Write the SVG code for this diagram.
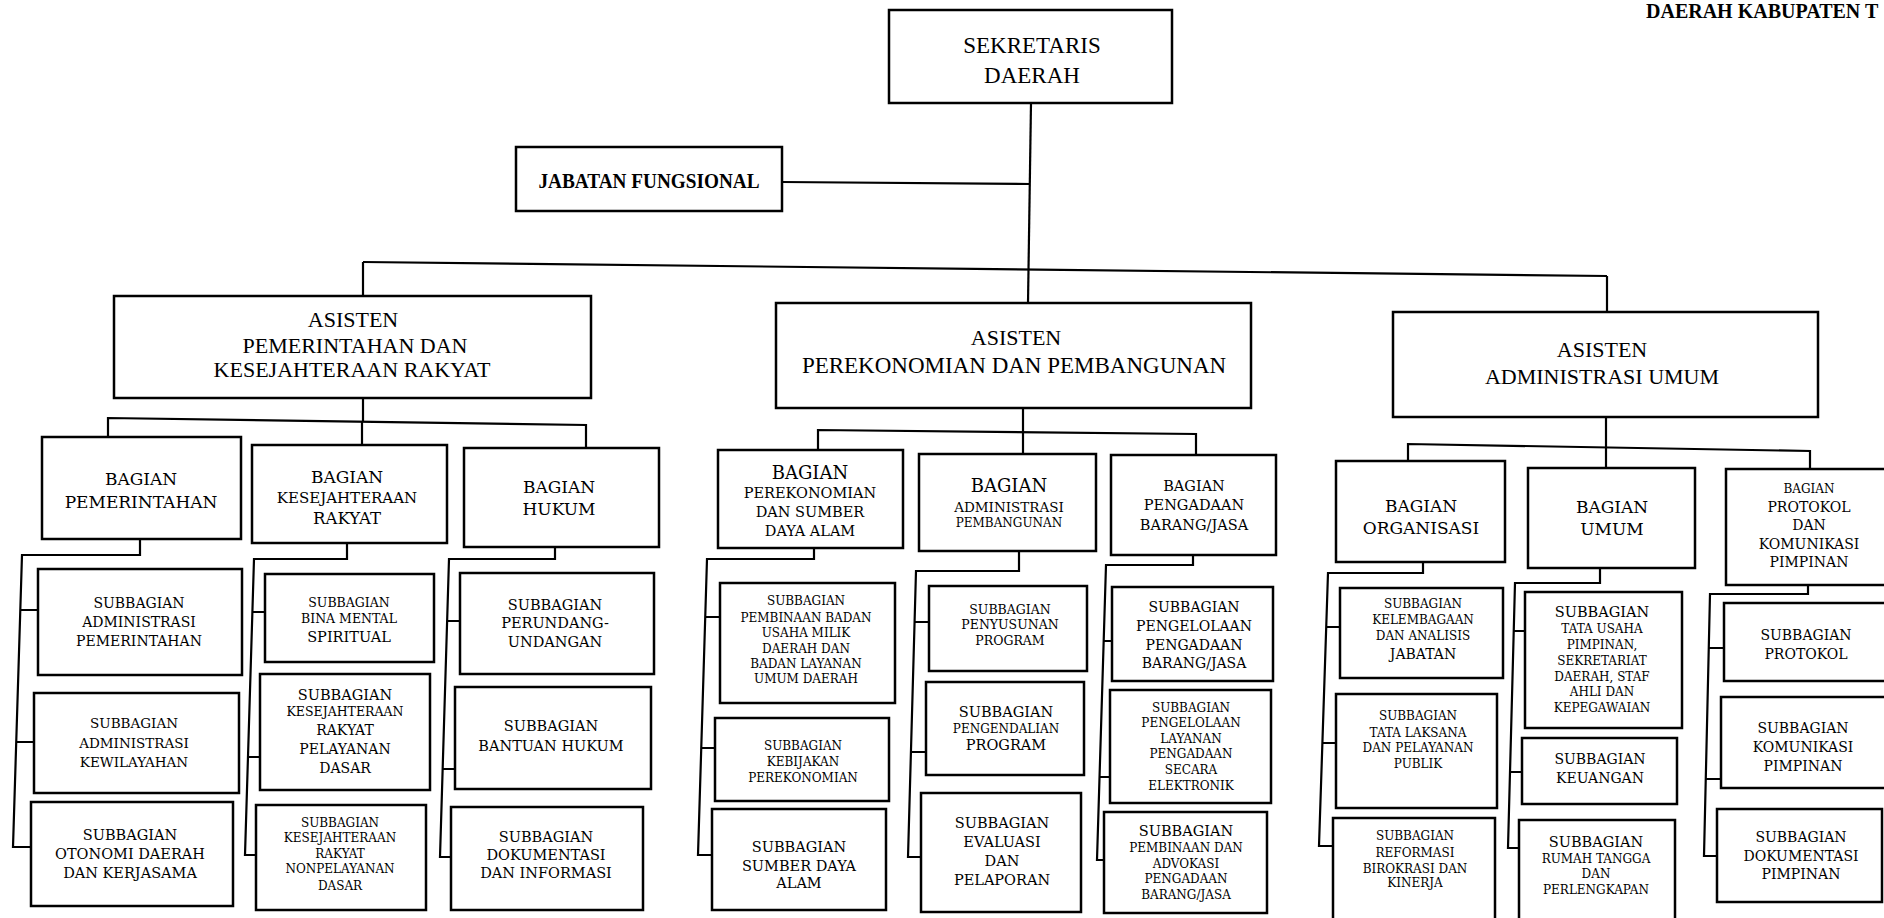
<svg xmlns="http://www.w3.org/2000/svg" width="1884" height="918" viewBox="0 0 1884 918">
<style>
.box{fill:#fff;stroke:#000;stroke-width:2.5}
.ln{fill:none;stroke:#000;stroke-width:2.2}
text{fill:#000;text-anchor:middle}
.hd{font-family:"Liberation Serif","Times New Roman",serif;font-size:22px}
.dv{font-family:"DejaVu Serif","Liberation Serif",serif;font-size:14.5px}
.f12{font-size:12px}.f125{font-size:12.5px}.f13{font-size:13.5px}.f14{font-size:14px}.f145{font-size:14.5px}.f15{font-size:15px}.f165{font-size:16.5px}.f17{font-size:17px}.f18{font-size:18px}
</style>
<rect width="1884" height="918" fill="#fff"/>
<text x="1646" y="18" style="font-family:'Liberation Serif',serif;font-size:20px;font-weight:bold;text-anchor:start">DAERAH KABUPATEN T</text>

<g id="connectors" class="ln">
<path d="M1031,103 L1028,303"/>
<path d="M782,182 L1030,184"/>
<path d="M363,262 L1607,276"/>
<path d="M363,262 V296"/>
<path d="M1607,276 V312"/>
<path d="M363,398 V422"/>
<path d="M108,437 V418 L586,425 V448"/>
<path d="M362,422 V445"/>
<path d="M1023,408 V454"/>
<path d="M818,450 V430 L1196,434 V455"/>
<path d="M1606,417 V468"/>
<path d="M1408,461 V444 L1810,451 V469"/>
<path d="M140,539 V555 H22 L13,847 H31"/>
<path d="M20,610 H38 M16,742 H34"/>
<path d="M347,543 V559 H254 L245,855 H256"/>
<path d="M252,612 H265 M248,757 H260"/>
<path d="M555,547 V559 H449 L440,857 H451"/>
<path d="M447,621 H460 M443,769 H455"/>
<path d="M814,548 V559 H707 L698,855 H712"/>
<path d="M705,617 H720 M702,748 H715"/>
<path d="M1019,551 V571 H916 L908,857 H921"/>
<path d="M915,622 H929 M911,752 H926"/>
<path d="M1193,555 V565 H1106 L1097,860 H1104"/>
<path d="M1104,641 H1112 M1100,777 H1110"/>
<path d="M1423,562 V573 H1328 L1319,846 H1333"/>
<path d="M1326,627 H1340 M1323,743 H1336"/>
<path d="M1600,568 V583 H1515 L1508,848 H1519"/>
<path d="M1514,631 H1525 M1511,772 H1522"/>
<path d="M1808,585 V594 H1710 L1704,856 H1717"/>
<path d="M1709,648 H1724 M1706,779 H1721"/>
</g>

<g id="sekretaris"><rect class="box" x="889" y="10" width="283" height="93"/>
<text class="hd" style="font-size:23px"><tspan x="1032" y="53">SEKRETARIS</tspan><tspan x="1032" y="83">DAERAH</tspan></text></g>

<g id="jabatan-fungsional"><rect class="box" x="516" y="147" width="266" height="64"/>
<text class="hd" x="649" y="188" style="font-size:21px;font-weight:bold" textLength="221" lengthAdjust="spacingAndGlyphs">JABATAN FUNGSIONAL</text></g>

<g id="asisten-1"><rect class="box" x="114" y="296" width="477" height="102"/>
<text class="hd"><tspan x="353" y="327">ASISTEN</tspan><tspan x="355" y="353">PEMERINTAHAN DAN</tspan><tspan x="352" y="377">KESEJAHTERAAN RAKYAT</tspan></text></g>

<g id="asisten-2"><rect class="box" x="776" y="303" width="475" height="105"/>
<text class="hd"><tspan x="1016" y="345">ASISTEN</tspan><tspan x="1014" y="373" style="font-size:23px">PEREKONOMIAN DAN PEMBANGUNAN</tspan></text></g>

<g id="asisten-3"><rect class="box" x="1393" y="312" width="425" height="105"/>
<text class="hd"><tspan x="1602" y="357">ASISTEN</tspan><tspan x="1602" y="384">ADMINISTRASI UMUM</tspan></text></g>

<g id="bagian-pemerintahan"><rect class="box" x="42" y="437" width="199" height="102"/>
<text class="dv f17"><tspan x="141" y="485">BAGIAN</tspan><tspan x="141" y="508">PEMERINTAHAN</tspan></text></g>
<g id="bagian-kesra"><rect class="box" x="252" y="445" width="195" height="98"/>
<text class="dv"><tspan class="f17" x="347" y="483">BAGIAN</tspan><tspan class="f15" x="347" y="503">KESEJAHTERAAN</tspan><tspan class="f165" x="347" y="524">RAKYAT</tspan></text></g>
<g id="bagian-hukum"><rect class="box" x="464" y="448" width="195" height="99"/>
<text class="dv f17"><tspan x="559" y="493">BAGIAN</tspan><tspan x="559" y="515">HUKUM</tspan></text></g>
<g id="bagian-perekonomian"><rect class="box" x="718" y="450" width="185" height="98"/>
<text class="dv"><tspan class="f18" x="810" y="479">BAGIAN</tspan><tspan x="810" y="498">PEREKONOMIAN</tspan><tspan x="810" y="517">DAN SUMBER</tspan><tspan x="810" y="536">DAYA ALAM</tspan></text></g>
<g id="bagian-adm-pembangunan"><rect class="box" x="919" y="454" width="177" height="97"/>
<text class="dv"><tspan class="f18" x="1009" y="492">BAGIAN</tspan><tspan class="f13" x="1009" y="512">ADMINISTRASI</tspan><tspan class="f12" x="1009" y="527">PEMBANGUNAN</tspan></text></g>
<g id="bagian-pengadaan"><rect class="box" x="1111" y="455" width="165" height="100"/>
<text class="dv"><tspan x="1194" y="491">BAGIAN</tspan><tspan x="1194" y="510">PENGADAAN</tspan><tspan x="1194" y="530">BARANG/JASA</tspan></text></g>
<g id="bagian-organisasi"><rect class="box" x="1336" y="461" width="169" height="101"/>
<text class="dv f17"><tspan x="1421" y="512">BAGIAN</tspan><tspan x="1421" y="534">ORGANISASI</tspan></text></g>
<g id="bagian-umum"><rect class="box" x="1528" y="468" width="167" height="100"/>
<text class="dv f17"><tspan x="1612" y="513">BAGIAN</tspan><tspan x="1612" y="535">UMUM</tspan></text></g>
<g id="bagian-protokol"><rect class="box" x="1726" y="469" width="170" height="116"/>
<text class="dv f14"><tspan class="f12" x="1809" y="493">BAGIAN</tspan><tspan x="1809" y="512">PROTOKOL</tspan><tspan x="1809" y="530">DAN</tspan><tspan x="1809" y="549">KOMUNIKASI</tspan><tspan x="1809" y="567">PIMPINAN</tspan></text></g>

<g id="sub-adm-pemerintahan"><rect class="box" x="38" y="569" width="204" height="106"/>
<text class="dv f14"><tspan x="139" y="608">SUBBAGIAN</tspan><tspan x="139" y="627">ADMINISTRASI</tspan><tspan x="139" y="646">PEMERINTAHAN</tspan></text></g>
<g id="sub-adm-kewilayahan"><rect class="box" x="34" y="693" width="205" height="100"/>
<text class="dv f13"><tspan x="134" y="728">SUBBAGIAN</tspan><tspan x="134" y="748">ADMINISTRASI</tspan><tspan x="134" y="767">KEWILAYAHAN</tspan></text></g>
<g id="sub-otonomi"><rect class="box" x="31" y="802" width="202" height="104"/>
<text class="dv f145"><tspan x="130" y="840">SUBBAGIAN</tspan><tspan x="130" y="859">OTONOMI DAERAH</tspan><tspan x="130" y="878">DAN KERJASAMA</tspan></text></g>

<g id="sub-bina-mental"><rect class="box" x="265" y="574" width="169" height="88"/>
<text class="dv"><tspan class="f125" x="349" y="607">SUBBAGIAN</tspan><tspan class="f125" x="349" y="623">BINA MENTAL</tspan><tspan x="349" y="642">SPIRITUAL</tspan></text></g>
<g id="sub-kesra-pelayanan"><rect class="box" x="260" y="674" width="170" height="116"/>
<text class="dv f14"><tspan class="f145" x="345" y="700">SUBBAGIAN</tspan><tspan class="f125" x="345" y="716">KESEJAHTERAAN</tspan><tspan x="345" y="735">RAKYAT</tspan><tspan x="345" y="754">PELAYANAN</tspan><tspan x="345" y="773">DASAR</tspan></text></g>
<g id="sub-kesra-nonpelayanan"><rect class="box" x="256" y="805" width="170" height="105"/>
<text class="dv f12"><tspan x="340" y="827">SUBBAGIAN</tspan><tspan x="340" y="842">KESEJAHTERAAN</tspan><tspan x="340" y="858">RAKYAT</tspan><tspan x="340" y="873">NONPELAYANAN</tspan><tspan x="340" y="890">DASAR</tspan></text></g>

<g id="sub-perundang"><rect class="box" x="460" y="573" width="194" height="101"/>
<text class="dv"><tspan x="555" y="610">SUBBAGIAN</tspan><tspan x="555" y="628">PERUNDANG-</tspan><tspan x="555" y="647">UNDANGAN</tspan></text></g>
<g id="sub-bantuan-hukum"><rect class="box" x="455" y="687" width="196" height="102"/>
<text class="dv"><tspan x="551" y="731">SUBBAGIAN</tspan><tspan x="551" y="751">BANTUAN HUKUM</tspan></text></g>
<g id="sub-dokumentasi-informasi"><rect class="box" x="451" y="807" width="192" height="103"/>
<text class="dv"><tspan x="546" y="842">SUBBAGIAN</tspan><tspan x="546" y="860">DOKUMENTASI</tspan><tspan x="546" y="878">DAN INFORMASI</tspan></text></g>

<g id="sub-bumd"><rect class="box" x="720" y="583" width="175" height="120"/>
<text class="dv f12"><tspan x="806" y="605">SUBBAGIAN</tspan><tspan x="806" y="622">PEMBINAAN BADAN</tspan><tspan x="806" y="637">USAHA MILIK</tspan><tspan x="806" y="653">DAERAH  DAN</tspan><tspan x="806" y="668">BADAN LAYANAN</tspan><tspan x="806" y="683">UMUM DAERAH</tspan></text></g>
<g id="sub-kebijakan"><rect class="box" x="715" y="718" width="174" height="83"/>
<text class="dv f12"><tspan x="803" y="750">SUBBAGIAN</tspan><tspan x="803" y="766">KEBIJAKAN</tspan><tspan x="803" y="782">PEREKONOMIAN</tspan></text></g>
<g id="sub-sda"><rect class="box" x="712" y="809" width="174" height="101"/>
<text class="dv"><tspan x="799" y="852">SUBBAGIAN</tspan><tspan x="799" y="871">SUMBER DAYA</tspan><tspan x="799" y="888">ALAM</tspan></text></g>

<g id="sub-penyusunan"><rect class="box" x="929" y="586" width="158" height="85"/>
<text class="dv f125"><tspan x="1010" y="614">SUBBAGIAN</tspan><tspan x="1010" y="629">PENYUSUNAN</tspan><tspan x="1010" y="645">PROGRAM</tspan></text></g>
<g id="sub-pengendalian"><rect class="box" x="926" y="682" width="158" height="93"/>
<text class="dv"><tspan x="1006" y="717">SUBBAGIAN</tspan><tspan class="f12" x="1006" y="733">PENGENDALIAN</tspan><tspan x="1006" y="750">PROGRAM</tspan></text></g>
<g id="sub-evaluasi"><rect class="box" x="921" y="793" width="160" height="119"/>
<text class="dv"><tspan x="1002" y="828">SUBBAGIAN</tspan><tspan x="1002" y="847">EVALUASI</tspan><tspan x="1002" y="866">DAN</tspan><tspan x="1002" y="885">PELAPORAN</tspan></text></g>

<g id="sub-pengelolaan-pengadaan"><rect class="box" x="1112" y="587" width="161" height="94"/>
<text class="dv f14"><tspan x="1194" y="612">SUBBAGIAN</tspan><tspan x="1194" y="631">PENGELOLAAN</tspan><tspan x="1194" y="650">PENGADAAN</tspan><tspan x="1194" y="668">BARANG/JASA</tspan></text></g>
<g id="sub-lpse"><rect class="box" x="1110" y="690" width="161" height="113"/>
<text class="dv f12"><tspan x="1191" y="712">SUBBAGIAN</tspan><tspan x="1191" y="727">PENGELOLAAN</tspan><tspan x="1191" y="743">LAYANAN</tspan><tspan x="1191" y="758">PENGADAAN</tspan><tspan x="1191" y="774">SECARA</tspan><tspan x="1191" y="790">ELEKTRONIK</tspan></text></g>
<g id="sub-advokasi"><rect class="box" x="1104" y="812" width="163" height="101"/>
<text class="dv f12"><tspan class="f145" x="1186" y="836">SUBBAGIAN</tspan><tspan x="1186" y="852">PEMBINAAN DAN</tspan><tspan x="1186" y="868">ADVOKASI</tspan><tspan x="1186" y="883">PENGADAAN</tspan><tspan x="1186" y="899">BARANG/JASA</tspan></text></g>

<g id="sub-kelembagaan"><rect class="box" x="1340" y="588" width="163" height="90"/>
<text class="dv f12"><tspan x="1423" y="608">SUBBAGIAN</tspan><tspan x="1423" y="624">KELEMBAGAAN</tspan><tspan x="1423" y="640">DAN ANALISIS</tspan><tspan class="f14" x="1423" y="659">JABATAN</tspan></text></g>
<g id="sub-tatalaksana"><rect class="box" x="1336" y="694" width="161" height="114"/>
<text class="dv f12"><tspan x="1418" y="720">SUBBAGIAN</tspan><tspan x="1418" y="737">TATA LAKSANA</tspan><tspan x="1418" y="752">DAN PELAYANAN</tspan><tspan x="1418" y="768">PUBLIK</tspan></text></g>
<g id="sub-reformasi"><rect class="box" x="1333" y="818" width="162" height="104"/>
<text class="dv f12"><tspan x="1415" y="840">SUBBAGIAN</tspan><tspan x="1415" y="857">REFORMASI</tspan><tspan x="1415" y="873">BIROKRASI DAN</tspan><tspan x="1415" y="887">KINERJA</tspan></text></g>

<g id="sub-tata-usaha"><rect class="box" x="1525" y="592" width="157" height="136"/>
<text class="dv f12"><tspan class="f145" x="1602" y="617">SUBBAGIAN</tspan><tspan x="1602" y="633">TATA USAHA</tspan><tspan x="1602" y="649">PIMPINAN,</tspan><tspan x="1602" y="665">SEKRETARIAT</tspan><tspan x="1602" y="681">DAERAH, STAF</tspan><tspan x="1602" y="696">AHLI DAN</tspan><tspan x="1602" y="712">KEPEGAWAIAN</tspan></text></g>
<g id="sub-keuangan"><rect class="box" x="1522" y="738" width="155" height="66"/>
<text class="dv f14"><tspan x="1600" y="764">SUBBAGIAN</tspan><tspan x="1600" y="783">KEUANGAN</tspan></text></g>
<g id="sub-rumah-tangga"><rect class="box" x="1519" y="820" width="156" height="104"/>
<text class="dv f12"><tspan class="f145" x="1596" y="847">SUBBAGIAN</tspan><tspan x="1596" y="863">RUMAH TANGGA</tspan><tspan x="1596" y="878">DAN</tspan><tspan x="1596" y="894">PERLENGKAPAN</tspan></text></g>

<g id="sub-protokol"><rect class="box" x="1724" y="603" width="172" height="78"/>
<text class="dv f14"><tspan x="1806" y="640">SUBBAGIAN</tspan><tspan x="1806" y="659">PROTOKOL</tspan></text></g>
<g id="sub-komunikasi"><rect class="box" x="1721" y="697" width="175" height="91"/>
<text class="dv f14"><tspan x="1803" y="733">SUBBAGIAN</tspan><tspan x="1803" y="752">KOMUNIKASI</tspan><tspan x="1803" y="771">PIMPINAN</tspan></text></g>
<g id="sub-dokumentasi-pimpinan"><rect class="box" x="1717" y="809" width="165" height="93"/>
<text class="dv f14"><tspan x="1801" y="842">SUBBAGIAN</tspan><tspan x="1801" y="861">DOKUMENTASI</tspan><tspan x="1801" y="879">PIMPINAN</tspan></text></g>
</svg>
